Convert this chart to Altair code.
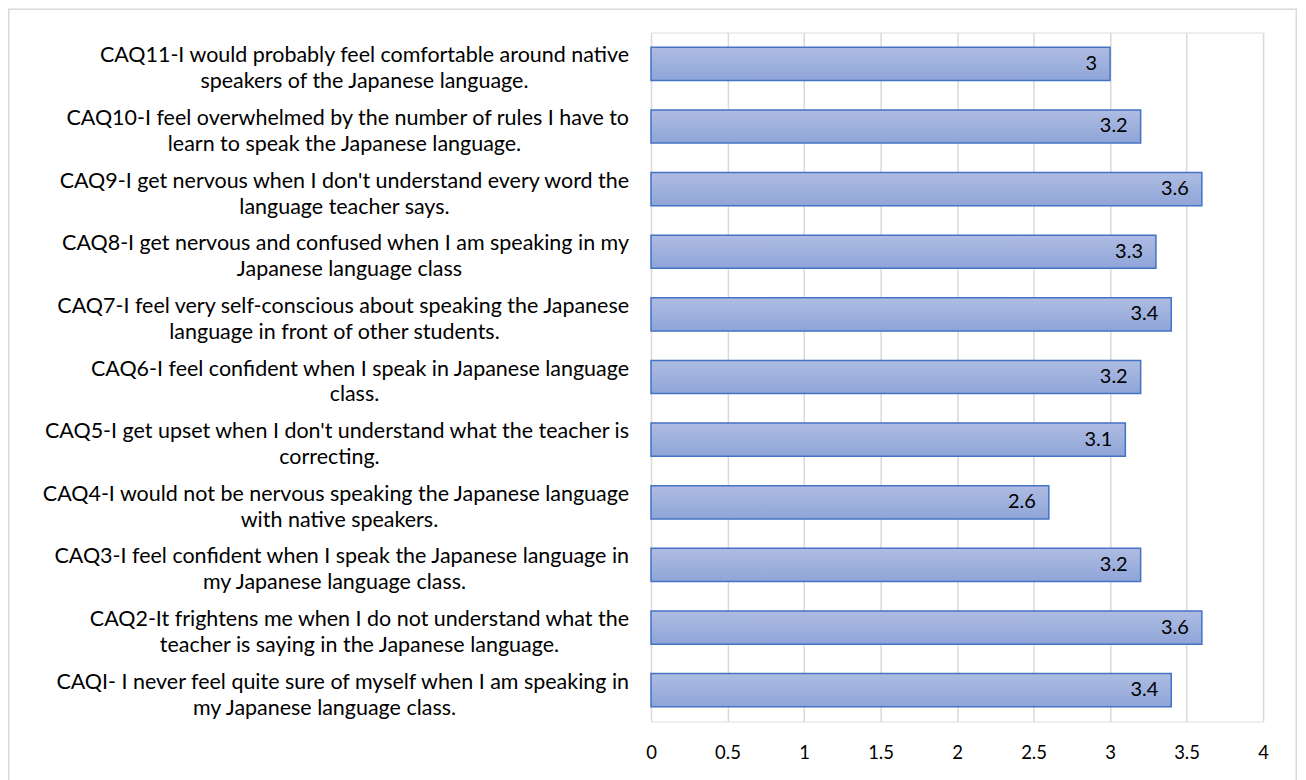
import altair as alt
import pandas as pd

codes = ["CAQ11", "CAQ10", "CAQ9", "CAQ8", "CAQ7", "CAQ6", "CAQ5", "CAQ4", "CAQ3", "CAQ2", "CAQ1"]
line1 = [
    "CAQ11-I would probably feel comfortable around native",
    "CAQ10-I feel overwhelmed by the number of rules I have to",
    "CAQ9-I get nervous when I don't understand every word the",
    "CAQ8-I get nervous and confused when I am speaking in my",
    "CAQ7-I feel very self-conscious about speaking the Japanese",
    "CAQ6-I feel confident when I speak in Japanese language",
    "CAQ5-I get upset when I don't understand what the teacher is",
    "CAQ4-I would not be nervous speaking the Japanese language",
    "CAQ3-I feel confident when I speak the Japanese language in",
    "CAQ2-It frightens me when I do not understand what the",
    "CAQI- I never feel quite sure of myself when I am speaking in",
]
line2 = [
    "speakers of the Japanese language.",
    "learn to speak the Japanese language.",
    "language teacher says.",
    "Japanese language class",
    "language in front of other students.",
    "class.",
    "correcting.",
    "with native speakers.",
    "my Japanese language class.",
    "teacher is saying in the Japanese language.",
    "my Japanese language class.",
]
values = [3.0, 3.2, 3.6, 3.3, 3.4, 3.2, 3.1, 2.6, 3.2, 3.6, 3.4]
x_ticks = [0, 0.5, 1, 1.5, 2, 2.5, 3, 3.5, 4]

df = pd.DataFrame({"code": codes, "line1": line1, "line2": line2, "value": values})

FONT = "Lato"
W, H = 613, 690
LABEL_SIZE = 21.5
CHAR_W = 10.0  # approx average glyph width for label font at LABEL_SIZE

y_enc = alt.Y("code:N", sort=codes, axis=None,
              scale=alt.Scale(paddingInner=0.47, paddingOuter=0.235))

base = alt.Chart(df)

bars = base.mark_bar(
    color=alt.Gradient(
        gradient="linear",
        stops=[alt.GradientStop(color="#AEBCE2", offset=0),
               alt.GradientStop(color="#8FA5D8", offset=1)],
        x1=0, x2=0, y1=0, y2=1),
    stroke="#4472C4", strokeWidth=1.5,
).encode(
    x=alt.X("value:Q", scale=alt.Scale(domain=[0, 4], nice=False),
            axis=alt.Axis(values=x_ticks, title=None, grid=True, gridColor="#D9D9D9",
                          gridWidth=1.5, domain=False, ticks=False, labelFont=FONT,
                          labelFontSize=18.5, labelColor="#000000", labelPadding=22,
                          labelFlush=False, labelExpr="datum.value")),
    y=y_enc,
)

vals = base.mark_text(align="right", baseline="middle", dx=-13, font=FONT,
                      fontSize=20, color="#000000").encode(
    x="value:Q", y=y_enc, text=alt.Text("value:Q", format="~g"))

lab1 = base.mark_text(align="right", baseline="alphabetic", dy=-1.5, font=FONT,
                      fontSize=LABEL_SIZE, color="#000000").encode(
    x=alt.value(-22), y=y_enc, text="line1:N")

lab2 = base.transform_calculate(
    cx=f"-22 - length(datum.line1) * {CHAR_W} / 2"
).mark_text(align="center", baseline="alphabetic", dy=24.5, font=FONT,
            fontSize=LABEL_SIZE, color="#000000").encode(
    x=alt.X("cx:Q", scale=None), y=y_enc, text="line2:N")

border = alt.Chart(pd.DataFrame({"a": [0]})).mark_rect(
    fill=None, stroke="#D9D9D9", strokeWidth=1.5
).encode(x=alt.value(-643.25), x2=alt.value(W + 33.25),
         y=alt.value(-23.25), y2=alt.value(H + 80))

chart = alt.layer(border, bars, vals, lab1, lab2).properties(
    width=W, height=H,
    autosize=alt.AutoSizeParams(type="none"),
    padding={"left": 644, "top": 24, "right": 35, "bottom": 58},
).configure_view(stroke=None).configure(background="white")

chart.save("out.html", embed_options={"renderer": "svg", "actions": False})
